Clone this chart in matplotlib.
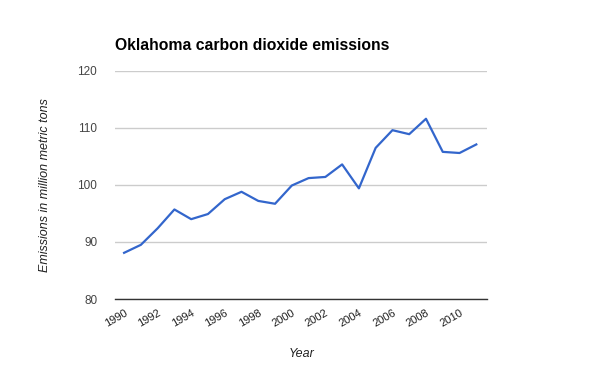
import matplotlib
matplotlib.use("Agg")
import matplotlib.pyplot as plt

years = list(range(1990, 2012))
emissions = [88.1, 89.5, 92.4, 95.7, 94.0, 94.9, 97.5, 98.8, 97.2, 96.7, 99.9,
             101.2, 101.4, 103.6, 99.4, 106.5, 109.6, 108.9, 111.6, 105.8, 105.6, 107.1]
xticks = list(range(1990, 2011, 2))
yticks = [80, 90, 100, 110, 120]

plt.rcParams['font.family'] = ['Liberation Sans', 'DejaVu Sans']

fig = plt.figure(figsize=(6, 3.71), dpi=100)
ax = fig.add_axes([0.192, 0.194, 0.62, 0.615])

ax.plot(years, emissions, color='#3366cc', linewidth=1.6, zorder=3)

ax.set_xlim(1989.47, 2011.65)
ax.set_ylim(80, 120)
ax.set_yticks(yticks)
ax.set_xticks(xticks)
ax.set_xticklabels([str(x) for x in xticks], rotation=30, ha='right',
                   rotation_mode='anchor', color='#222222', fontsize=8)
ax.set_yticklabels([str(y) for y in yticks], color='#444444', fontsize=8.5)
ax.tick_params(length=0)
ax.tick_params(axis='y', pad=13)
ax.tick_params(axis='x', pad=6)

ax.grid(axis='y', color='#cccccc', linewidth=1)
ax.set_axisbelow(True)
for s in ['top', 'right', 'left']:
    ax.spines[s].set_visible(False)
ax.spines['bottom'].set_color('#333333')
ax.spines['bottom'].set_linewidth(1)
ax.spines['bottom'].set_zorder(4)

ax.set_xlabel('Year', style='italic', color='#222222', fontsize=9, labelpad=14)
ax.set_ylabel('Emissions in million metric tons', style='italic', color='#222222',
              fontsize=9, labelpad=19)

fig.text(115 / 600, 1 - 45 / 371, 'Oklahoma carbon dioxide emissions',
         fontsize=11.3, fontweight='bold', color='#000000', va='center', ha='left')

fig.savefig('out.png', dpi=100)
